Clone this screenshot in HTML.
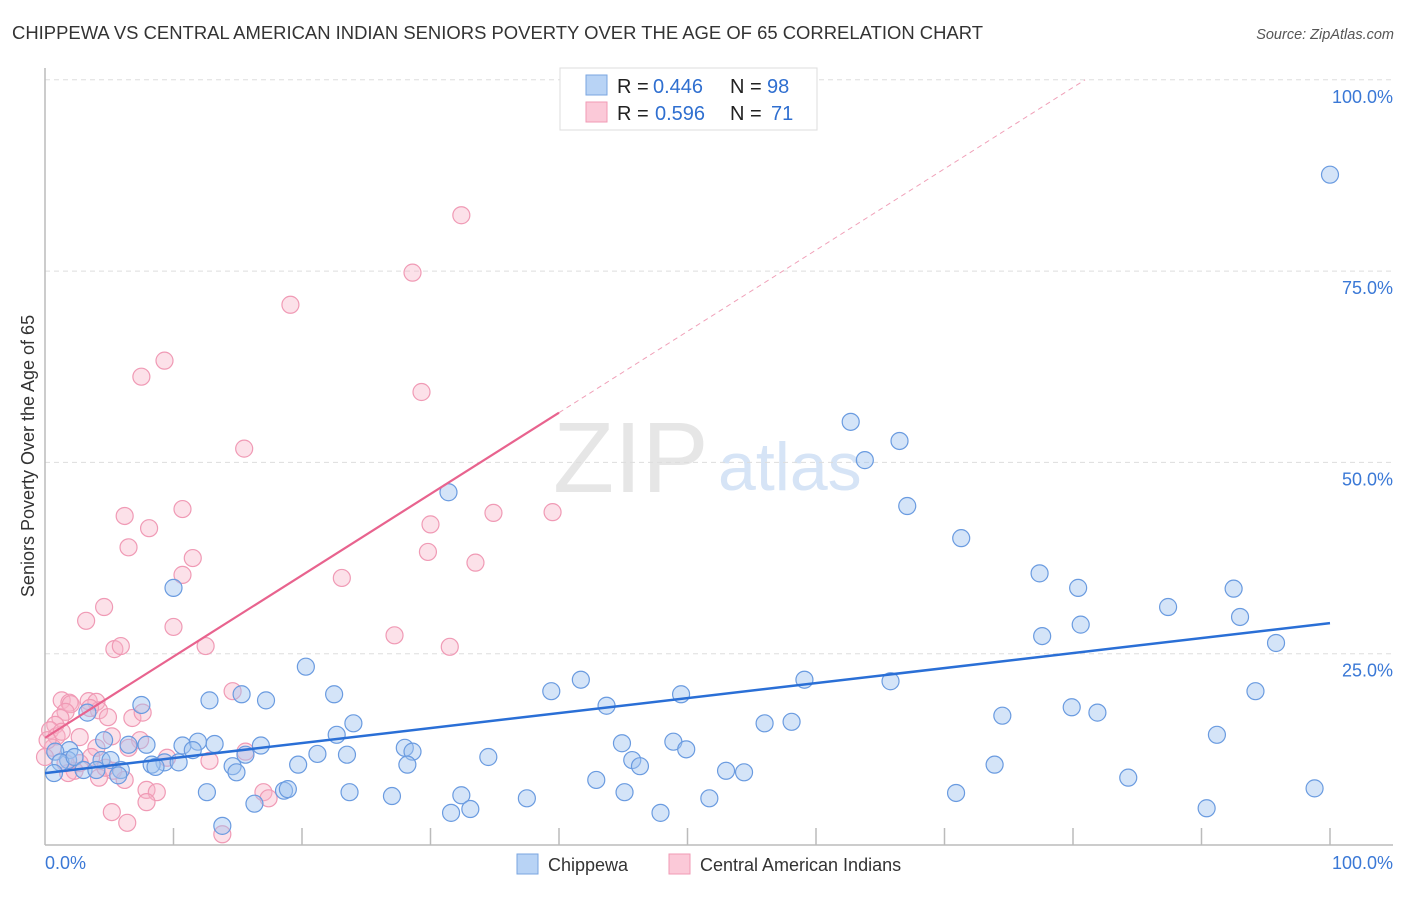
<!DOCTYPE html>
<html><head><meta charset="utf-8"><style>
body{margin:0;background:#fff;font-family:"Liberation Sans",sans-serif}
svg text{font-family:"Liberation Sans",sans-serif}
</style></head><body>
<svg id="c" width="1406" height="892">
<text x="12" y="39" font-size="18" fill="#333" textLength="971" lengthAdjust="spacingAndGlyphs">CHIPPEWA VS CENTRAL AMERICAN INDIAN SENIORS POVERTY OVER THE AGE OF 65 CORRELATION CHART</text>
<text x="1394" y="39" font-size="14.5" fill="#555" font-style="italic" text-anchor="end">Source: ZipAtlas.com</text>
<text x="34" y="456" font-size="18" fill="#333" text-anchor="middle" transform="rotate(-90 34 456)">Seniors Poverty Over the Age of 65</text>
<g><text x="553" y="492" font-size="100" font-family="Liberation Serif" fill="#e6e6e6">ZIP</text><text x="718" y="490" font-size="68" fill="#d6e4f6">atlas</text></g>
<g id="grid"></g><g id="marks"></g>
<g>
<rect x="560" y="68" width="257" height="62" fill="#fff" stroke="#ddd"/>
<rect x="586" y="75" width="21" height="20" fill="#b8d3f5" stroke="#7aa6e0"/>
<rect x="586" y="102" width="21" height="20" fill="#fbc9d8" stroke="#f09ab5"/>
<text x="617" y="93" font-size="20" fill="#222">R =</text>
<text x="653" y="93" font-size="20" fill="#2f6fd0">0.446</text>
<text x="730" y="93" font-size="20" fill="#222">N =</text>
<text x="767" y="93" font-size="20" fill="#2f6fd0">98</text>
<text x="617" y="120" font-size="20" fill="#222">R =</text>
<text x="655" y="120" font-size="20" fill="#2f6fd0">0.596</text>
<text x="730" y="120" font-size="20" fill="#222">N =</text>
<text x="771" y="120" font-size="20" fill="#2f6fd0">71</text>
</g>
<g>
<rect x="517" y="854" width="21" height="20" fill="#b8d3f5" stroke="#7aa6e0"/><text x="548" y="871" font-size="18" fill="#333">Chippewa</text>
<rect x="669" y="854" width="21" height="20" fill="#fbc9d8" stroke="#f09ab5"/><text x="700" y="871" font-size="18" fill="#333">Central American Indians</text>
</g>
</svg>
<script>
const blueX=[100,62.7,66.5,63.8,67.1,71.3,31.4,77.4,80.4,92.5,87.4,93.0,77.6,80.6,95.8,10.0,20.3,22.5,39.4,41.7,49.5,59.1,65.8,94.2,7.5,12.8,15.3,17.2,3.3,24.0,43.7,74.5,79.9,81.9,56.0,58.1,91.2,22.7,16.8,13.2,10.7,11.9,6.5,7.9,4.6,1.9,0.8,1.8,1.2,2.3,4.4,5.1,5.9,3.0,4.0,9.3,10.4,8.3,8.6,11.5,14.6,14.9,15.6,19.7,21.2,23.5,28.0,28.6,28.2,34.5,44.9,45.7,46.3,48.9,49.9,53.0,54.4,73.9,0.7,5.7,12.6,18.6,18.9,16.3,23.7,27.0,32.4,33.1,31.6,37.5,42.9,45.1,47.9,51.7,70.9,84.3,90.4,98.8,13.8];
const blueY=[87.6,55.3,52.8,50.3,44.3,40.1,46.1,35.5,33.6,33.5,31.1,29.8,27.3,28.8,26.4,33.6,23.3,19.7,20.1,21.6,19.7,21.6,21.4,20.1,18.3,18.9,19.7,18.9,17.3,15.9,18.2,16.9,18.0,17.3,15.9,16.1,14.4,14.4,13.0,13.2,13.0,13.5,13.1,13.1,13.7,12.4,12.2,11.1,10.8,11.5,11.1,11.1,9.8,9.8,9.8,10.8,10.8,10.5,10.2,12.4,10.3,9.5,11.8,10.5,11.9,11.8,12.7,12.2,10.5,11.5,13.3,11.1,10.3,13.5,12.5,9.7,9.5,10.5,9.4,9.1,6.9,7.1,7.3,5.4,6.9,6.4,6.5,4.7,4.2,6.1,8.5,6.9,4.2,6.1,6.8,8.8,4.8,7.4,2.5];
const pinkX=[32.4,28.6,19.1,9.3,7.5,29.3,15.5,10.7,6.2,8.1,6.5,30.0,34.9,39.5,29.8,33.5,11.5,10.7,23.1,4.6,3.2,10.0,12.5,5.4,5.9,27.2,31.5,14.6,1.3,1.9,3.4,4.0,4.2,2.0,1.6,3.5,4.9,6.8,7.6,5.2,1.2,0.8,0.4,0.9,1.3,2.7,0.6,4.0,7.4,6.5,3.6,2.7,0,2.3,5.3,1.8,6.2,4.2,9.5,12.8,15.6,1.6,4.7,7.9,8.7,7.9,17.0,17.4,5.2,6.4,13.8,0.2];
const pinkY=[82.3,74.8,70.6,63.3,61.2,59.2,51.8,43.9,43.0,41.4,38.9,41.9,43.4,43.5,38.3,36.9,37.5,35.3,34.9,31.1,29.3,28.5,26.0,25.6,26.0,27.4,25.9,20.1,18.9,18.6,18.8,18.7,17.6,18.4,17.4,17.9,16.7,16.6,17.3,14.2,16.6,15.7,15.0,14.2,14.8,14.1,12.7,12.7,13.7,12.7,11.5,10.7,11.5,9.7,9.7,9.4,8.5,8.8,11.4,11.0,12.2,10.7,10.1,7.2,6.9,5.6,6.9,6.1,4.3,2.9,1.4,13.7];
const blueTrend=[9.4,29.0];
const pinkTrend=[14.0,1.0625];
const yTicks=[25,50,75,100];
const xTicks=[0,10,20,30,40,50,60,70,80,90,100];
const sx=v=>45+v*12.85, sy=v=>845-v*7.652;
const NS="http://www.w3.org/2000/svg";
function mk(t,a,p){const e=document.createElementNS(NS,t);for(const k in a)e.setAttribute(k,a[k]);p.appendChild(e);return e;}
const g=document.getElementById('grid'),m=document.getElementById('marks');
yTicks.forEach(t=>{const l=mk('line',{x1:45,x2:1393,y1:sy(t),y2:sy(t),stroke:'#ddd','stroke-dasharray':'5,4'},g);


const tx=mk('text',{x:1393,y:sy(t)+23,'font-size':18,fill:'#3a78d6','text-anchor':'end'},g);tx.textContent=t.toFixed(1)+'%';

});
let ax=mk('line',{x1:45,x2:45,y1:68,y2:845,stroke:'#bbb','stroke-width':1.5},g);


ax=mk('line',{x1:45,x2:1393,y1:845,y2:845,stroke:'#bbb','stroke-width':1.5},g);


xTicks.forEach(t=>{if(t===0)return;const l=mk('line',{x1:sx(t),x2:sx(t),y1:828,y2:845,stroke:'#bbb','stroke-width':1.5},g);

});
let lb=mk('text',{x:45,y:869,'font-size':18,fill:'#3a78d6'},g);lb.textContent='0.0%';


lb=mk('text',{x:1393,y:869,'font-size':18,fill:'#3a78d6','text-anchor':'end'},g);lb.textContent='100.0%';


pinkX.forEach((x,i)=>{const c=mk('circle',{cx:sx(x),cy:sy(pinkY[i]),r:8.5,fill:'rgba(248,180,200,0.4)',stroke:'#f09ab5','stroke-width':1.2},m);

});
blueX.forEach((x,i)=>{const c=mk('circle',{cx:sx(x),cy:sy(blueY[i]),r:8.5,fill:'rgba(160,196,240,0.45)',stroke:'#6a9be0','stroke-width':1.2},m);

});
let tl=mk('line',{x1:sx(0),y1:sy(blueTrend[0]),x2:sx(100),y2:sy(blueTrend[1]),stroke:'#2a6fd6','stroke-width':2.5},m);


const pEnd=(100-pinkTrend[0])/pinkTrend[1];
tl=mk('line',{x1:sx(0),y1:sy(pinkTrend[0]),x2:sx(40),y2:sy(pinkTrend[0]+40*pinkTrend[1]),stroke:'#e8638e','stroke-width':2.2},m);


tl=mk('line',{x1:sx(40),y1:sy(pinkTrend[0]+40*pinkTrend[1]),x2:sx(pEnd),y2:sy(100),stroke:'#f0a0b8','stroke-width':1,'stroke-dasharray':'5,4'},m);


</script>
</body></html>
